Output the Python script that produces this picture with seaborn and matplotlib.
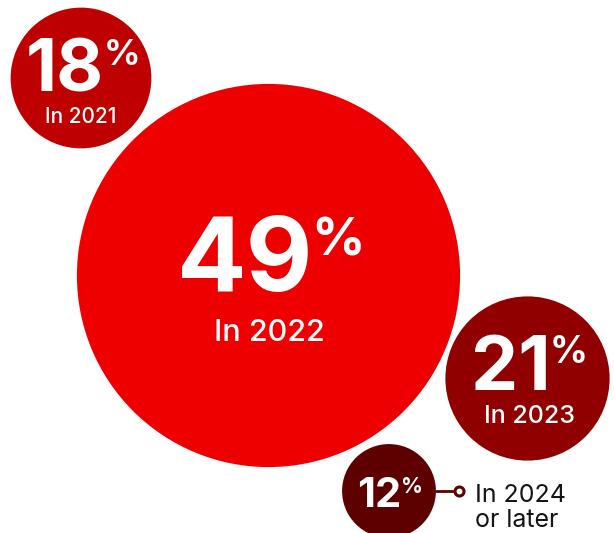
import matplotlib
matplotlib.use("Agg")
import matplotlib.pyplot as plt
import seaborn as sns
import pandas as pd

# ---- data ----
years = ["In 2021", "In 2022", "In 2023", "In 2024\nor later"]
shares = [18, 49, 21, 12]

# ---- layout (pixel coordinates, styles) ----
centers_x = [81, 268.5, 527.5, 389]
centers_y = [78, 275.5, 378.5, 491]
colors = ["#BE0000", "#EE0000", "#910000", "#5F0000"]
px_per_unit = 3.91          # bubble radius in px per percentage point
DPI = 100
PT = 72 / DPI               # points per pixel

sns.set_theme(style="white")
plt.rcParams["font.family"] = ["Inter", "DejaVu Sans"]

df = pd.DataFrame({"year": years, "share": shares, "x": centers_x, "y": centers_y})
sizes = [(2 * v * px_per_unit * PT) ** 2 for v in shares]

fig = plt.figure(figsize=(6.14, 5.33), dpi=DPI)
ax = fig.add_axes([0, 0, 1, 1])
sns.scatterplot(data=df, x="x", y="y", hue="year", palette=colors, s=sizes,
                linewidth=0, legend=False, ax=ax, zorder=2)
ax.set_xlim(0, 614)
ax.set_ylim(533, 0)
ax.set_aspect("equal")
ax.axis("off")

# text layout per bubble: (number left x, number baseline, number size,
#                          % left x, % baseline, % size,
#                          label x, label baseline, label size)
text_layout = [
    (26, 92, 52, 104, 65, 26, 81, 123, 15),
    (177, 291, 74, 311, 256, 38, 269, 341, 22),
    (471, 390, 54, 550, 363, 27, 529, 423, 18),
    (357, 507, 30, 401, 493, 15.5, None, None, None),
]
for (v, lab), (nx, ny, ns, px, py, ps, lx, ly, ls) in zip(zip(shares, years), text_layout):
    ax.text(nx, ny, f"{v}", color="white", fontsize=ns, fontweight="bold",
            ha="left", va="baseline", zorder=3)
    ax.text(px, py, "%", color="white", fontsize=ps, fontweight="bold",
            ha="left", va="baseline", zorder=3)
    if lx is not None:
        ax.text(lx, ly, lab, color="white", fontsize=ls, fontweight="medium",
                ha="center", va="baseline", zorder=3)

# connector for the smallest bubble
cx, cy = centers_x[3], centers_y[3]
r_small = shares[3] * px_per_unit
ax.plot([cx + r_small, 454], [cy, cy], color=colors[3], lw=2 * PT * 1.4, zorder=1)
ax.scatter([458.5], [cy], s=(9 * PT) ** 2, facecolor="white", edgecolor=colors[3],
           linewidth=2.2 * PT * 1.4, zorder=3)
ax.text(475, 502, years[3].split("\n")[0], color="#151515", fontsize=18,
        ha="left", va="baseline")
ax.text(475, 527, years[3].split("\n")[1], color="#151515", fontsize=18,
        ha="left", va="baseline")

fig.savefig("out.png", dpi=DPI)
